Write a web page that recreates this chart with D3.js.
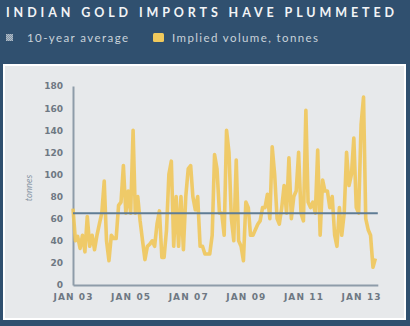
<!DOCTYPE html>
<html>
<head>
<meta charset="utf-8">
<script src="https://cdn.jsdelivr.net/npm/d3@7"></script>
<style>
  html, body { margin: 0; padding: 0; background: #30506f; }
  svg { display: block; }
</style>
</head>
<body>
<svg id="chart" width="410" height="326"></svg>
<script>
// Monthly implied gold import volume (tonnes), Jan 2003 – Jul 2013
const startMonth = new Date(2003, 0, 1);
const volume = [
  69, 40, 44, 33, 45, 30, 62, 35, 45, 32, 45, 55,
  65, 94, 40, 22, 45, 42, 42, 72, 75, 108, 65, 85,
  65, 140, 65, 80, 58, 40, 23, 35, 37, 40, 35, 55,
  67, 25, 25, 50, 100, 112, 35, 80, 35, 80, 32, 80,
  105, 108, 80, 68, 80, 35, 35, 28, 28, 28, 45, 118,
  105, 65, 65, 45, 140, 120, 60, 40, 113, 40, 35, 22,
  75, 70, 45, 45, 50, 55, 58, 70, 70, 82, 60, 125,
  100, 60, 55, 70, 90, 65, 115, 60, 80, 85, 120, 65,
  58, 158, 75, 70, 75, 65, 122, 45, 95, 85, 85, 70,
  80, 45, 35, 70, 45, 65, 120, 90, 100, 133, 70, 65,
  145, 170, 60, 50, 45, 16, 24
];
const tenYearAverage = 65;
const yTicks = [0, 20, 40, 60, 80, 100, 120, 140, 160, 180];
const xTickYears = [2003, 2005, 2007, 2009, 2011, 2013];
const legendLabels = ["10-year average", "Implied volume, tonnes"];
const titleText = "INDIAN GOLD IMPORTS HAVE PLUMMETED";
const yAxisTitle = "tonnes";

const wideFont = "'DejaVu Sans', Verdana, sans-serif";
const textFont = "Lato, 'Open Sans', sans-serif";

const svg = d3.select("#chart");

// pattern for the average legend swatch
const defs = svg.append("defs");
const pat = defs.append("pattern").attr("id", "dots")
  .attr("width", 2).attr("height", 2).attr("patternUnits", "userSpaceOnUse");
pat.append("rect").attr("width", 2).attr("height", 2).attr("fill", "#7f92a4");
pat.append("rect").attr("width", 1).attr("height", 1).attr("fill", "#aebbc7");
pat.append("rect").attr("x", 1).attr("y", 1).attr("width", 1).attr("height", 1).attr("fill", "#aebbc7");

// title
svg.append("text")
  .attr("x", 6).attr("y", 17)
  .attr("fill", "#f2f4f6")
  .attr("font-family", textFont)
  .attr("font-weight", 700)
  .attr("font-size", 12.5)
  .attr("textLength", 388)
  .attr("lengthAdjust", "spacing")
  .text(titleText);

// legend
const legend = svg.append("g").attr("font-family", textFont)
  .attr("font-size", 11.5).attr("fill", "#c9d2da");
legend.append("rect").attr("x", 6).attr("y", 34).attr("width", 7).attr("height", 7).attr("fill", "url(#dots)");
legend.append("text").attr("x", 27).attr("y", 42)
  .attr("textLength", 101).attr("lengthAdjust", "spacing").text(legendLabels[0]);
legend.append("rect").attr("x", 153).attr("y", 33).attr("width", 11).attr("height", 9).attr("rx", 1.5).attr("fill", "#f0c95c");
legend.append("text").attr("x", 172).attr("y", 42)
  .attr("textLength", 146).attr("lengthAdjust", "spacing").text(legendLabels[1]);

// panel
svg.append("rect")
  .attr("x", 4).attr("y", 65).attr("width", 401).attr("height", 254)
  .attr("fill", "#e7e9eb").attr("stroke", "#ffffff").attr("stroke-width", 2);

// scales
const x = d3.scaleTime()
  .domain([startMonth, new Date(2013, 7, 1)])
  .range([73, 377.8]);
const y = d3.scaleLinear().domain([0, 180]).range([285, 86]);

const data = volume.map((v, i) => ({ date: d3.timeMonth.offset(startMonth, i), value: v }));

const tickColor = "#6e7883";

// y axis
const yAxis = svg.append("g").attr("transform", "translate(73,0)")
  .call(d3.axisLeft(y).tickValues(yTicks).tickSize(0).tickPadding(10));
yAxis.select(".domain").attr("stroke", "#8e9ca9").attr("stroke-width", 2);
yAxis.selectAll("text")
  .attr("fill", tickColor)
  .attr("font-family", wideFont)
  .attr("font-weight", 700)
  .attr("font-size", 9);

// x axis
const xAxis = svg.append("g").attr("transform", "translate(0,285)")
  .call(d3.axisBottom(x)
    .tickValues(xTickYears.map(yr => new Date(yr, 0, 1)))
    .tickFormat(d => "JAN " + d3.timeFormat("%y")(d))
    .tickSize(0).tickPadding(9));
xAxis.select(".domain").attr("stroke", "#8e9ca9").attr("stroke-width", 2);
xAxis.selectAll("text")
  .attr("fill", tickColor)
  .attr("font-family", wideFont)
  .attr("font-weight", 700)
  .attr("font-size", 9)
  .attr("letter-spacing", 1.1);

// axis title
svg.append("text")
  .attr("transform", "translate(32,188) rotate(-90)")
  .attr("text-anchor", "middle")
  .attr("fill", "#8796a5")
  .attr("font-family", textFont)
  .attr("font-style", "italic")
  .attr("font-size", 9.5)
  .text(yAxisTitle);

// volume line
const line = d3.line().x(d => x(d.date)).y(d => y(d.value)).curve(d3.curveLinear);
svg.append("path")
  .datum(data)
  .attr("d", line)
  .attr("fill", "none")
  .attr("stroke", "#efc75a")
  .attr("stroke-opacity", 0.9)
  .attr("stroke-width", 3.6)
  .attr("stroke-linejoin", "round");

// average line
svg.append("line")
  .attr("x1", x(startMonth)).attr("x2", x(new Date(2013, 7, 1)))
  .attr("y1", y(tenYearAverage)).attr("y2", y(tenYearAverage))
  .attr("stroke", "#5f7c95")
  .attr("stroke-width", 2);
</script>
</body>
</html>
